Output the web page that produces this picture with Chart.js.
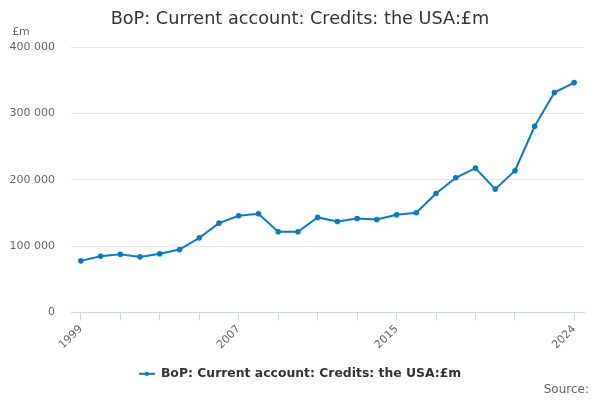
<!DOCTYPE html>
<html lang="en">
<head>
    <meta charset="UTF-8">
    <title>BoP: Current account: Credits: the USA</title>
    <script src="https://cdn.jsdelivr.net/npm/chart.js"></script>
    <style>
        html, body { margin: 0; padding: 0; background: #fff; }
        #wrap { width: 600px; height: 400px; }
    </style>
</head>
<body>
    <div id="wrap">
        <canvas id="bopChart" width="600" height="400"></canvas>
    </div>
    <script>
        // Data
        const years = [1999, 2000, 2001, 2002, 2003, 2004, 2005, 2006, 2007, 2008, 2009, 2010, 2011,
                       2012, 2013, 2014, 2015, 2016, 2017, 2018, 2019, 2020, 2021, 2022, 2023, 2024];
        const credits = [78000, 85000, 88000, 84000, 88600, 95000, 112700, 134800, 146000, 149000, 121800, 121800, 143500,
                         137400, 141900, 140400, 147400, 150400, 179600, 203300, 217800, 186100, 213900, 280800, 331600, 346700];
        const tickYears = [1999, 2001, 2003, 2005, 2007, 2009, 2011, 2013, 2015, 2017, 2019, 2021, 2024];
        const labelYears = [1999, 2007, 2015, 2024];
        const yTicks = [0, 100000, 200000, 300000, 400000];

        const seriesName = 'BoP: Current account: Credits: the USA:£m';
        const lineColor = '#0a7bc0';
        const font = 'DejaVu Sans';

        // legend symbol: short line with a dot
        const sym = document.createElement('canvas');
        sym.width = 16; sym.height = 10;
        const sctx = sym.getContext('2d');
        sctx.strokeStyle = lineColor;
        sctx.lineWidth = 2;
        sctx.beginPath(); sctx.moveTo(0, 5); sctx.lineTo(16, 5); sctx.stroke();
        sctx.fillStyle = lineColor;
        sctx.beginPath(); sctx.arc(8, 5, 2.2, 0, Math.PI * 2); sctx.fill();

        // extra texts: unit label and source
        const extras = {
            id: 'extras',
            afterDraw(chart) {
                const c = chart.ctx;
                c.save();
                c.fillStyle = '#666';
                c.font = '11px "' + font + '"';
                c.textAlign = 'left';
                c.textBaseline = 'middle';
                c.fillText('£m', 12, 32);
                c.font = '12px "' + font + '"';
                c.textAlign = 'right';
                c.fillText('Source:', 589, 390);
                c.restore();
            }
        };

        const ctx = document.getElementById('bopChart').getContext('2d');
        new Chart(ctx, {
            type: 'line',
            data: {
                datasets: [{
                    label: seriesName,
                    data: years.map((y, i) => ({ x: y, y: credits[i] })),
                    borderColor: lineColor,
                    backgroundColor: lineColor,
                    borderWidth: 2,
                    pointRadius: 1.8,
                    pointHoverRadius: 3,
                    tension: 0
                }]
            },
            options: {
                responsive: false,
                animation: false,
                layout: { padding: { left: 0, right: 0, top: 4, bottom: 10 } },
                plugins: {
                    title: {
                        display: true,
                        text: 'BoP: Current account: Credits: the USA:£m',
                        color: '#333',
                        font: { family: font, size: 17.7, weight: 'normal' },
                        padding: { top: 5, bottom: 17 }
                    },
                    legend: {
                        position: 'bottom',
                        labels: {
                            color: '#333',
                            font: { family: font, size: 12.4, weight: 'bold' },
                            usePointStyle: true,
                            pointStyleWidth: 16,
                            generateLabels: () => [{
                                text: seriesName,
                                pointStyle: sym,
                                fontColor: '#333',
                                lineWidth: 0,
                                strokeStyle: 'transparent',
                                fillStyle: lineColor
                            }]
                        }
                    },
                    tooltip: { enabled: false }
                },
                scales: {
                    x: {
                        type: 'linear',
                        min: 1998.5,
                        max: 2024.5,
                        afterBuildTicks: axis => { axis.ticks = tickYears.map(v => ({ value: v })); },
                        afterFit: axis => { axis.height = 45; },
                        ticks: {
                            autoSkip: false,
                            minRotation: 45,
                            maxRotation: 45,
                            color: '#666',
                            font: { family: font, size: 11 },
                            padding: 2,
                            callback: v => labelYears.includes(v) ? String(v) : ''
                        },
                        grid: {
                            drawOnChartArea: false,
                            drawTicks: true,
                            tickLength: 8,
                            color: '#ccd6eb'
                        },
                        border: { color: '#ccd6eb' }
                    },
                    y: {
                        min: 0,
                        max: 400000,
                        afterBuildTicks: axis => { axis.ticks = yTicks.map(v => ({ value: v })); },
                        afterFit: axis => { axis.width = 71; },
                        ticks: {
                            color: '#666',
                            font: { family: font, size: 11 },
                            padding: 16,
                            callback: v => String(v).replace(/\B(?=(\d{3})+(?!\d))/g, ' ')
                        },
                        grid: { color: '#e6e6e6', drawTicks: false },
                        border: { display: false }
                    },
                    // empty right axis only to keep a right margin while title and legend stay centred
                    spacer: {
                        position: 'right',
                        afterFit: axis => { axis.width = 16; },
                        ticks: { display: false },
                        grid: { display: false },
                        border: { display: false }
                    }
                }
            },
            plugins: [extras]
        });
    </script>
</body>
</html>
